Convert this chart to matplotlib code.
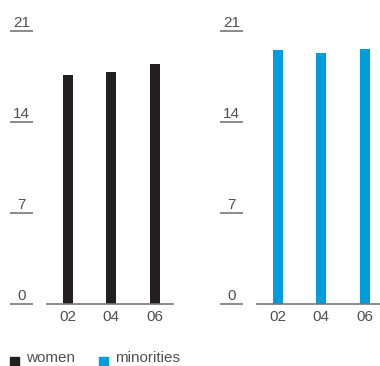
import matplotlib
matplotlib.use("Agg")
import matplotlib.pyplot as plt
from matplotlib.patches import Rectangle

plt.rcParams['font.family'] = ['Liberation Sans', 'DejaVu Sans']

years = ["02", "04", "06"]
women = [17.6, 17.85, 18.5]
minorities = [19.55, 19.3, 19.6]
y_ticks = [0, 7, 14, 21]
series_names = ["women", "minorities"]
colors = ["#231f20", "#009ddc"]

W, H = 380, 366
fig = plt.figure(figsize=(W / 100, H / 100), dpi=100)

text_color = "#505050"
line_color = "#777777"
xlim = (-1.322, 2.425)
base_start = -0.471
fs = 11


def panel(left_px, values, color):
    ax = fig.add_axes([left_px / W, 62 / H, 163 / W, 273 / H])
    ax.set_xlim(*xlim)
    ax.set_ylim(0, 21)
    xs = list(range(len(years)))
    ax.bar(xs, values, width=0.23, color=color, zorder=2)
    for s in ["top", "left", "right"]:
        ax.spines[s].set_visible(False)
    ax.spines["bottom"].set_bounds(base_start, xlim[1])
    ax.spines["bottom"].set_color(line_color)
    ax.spines["bottom"].set_linewidth(1.2)
    ax.set_xticks(xs)
    ax.set_xticklabels(years, fontsize=fs, color=text_color)
    ax.tick_params(axis="x", length=0, pad=4.5)
    ax.set_yticks([])
    for v in y_ticks:
        ax.plot([xlim[0], xlim[0] + 0.52], [v, v], color=line_color,
                lw=1.2, clip_on=False, solid_capstyle="butt")
        ax.annotate(str(v), xy=(xlim[0] + 0.26, v), xytext=(0, 3),
                    textcoords="offset points", ha="center", va="baseline",
                    fontsize=fs, color=text_color, annotation_clip=False)
    ax.patch.set_visible(False)
    return ax


panel(10, women, colors[0])
panel(220, minorities, colors[1])

# legend along the bottom edge
for x0, name, c in [(10, series_names[0], colors[0]), (99, series_names[1], colors[1])]:
    fig.patches.append(Rectangle((x0 / W, -3 / H), 9 / W, 12 / H,
                                 transform=fig.transFigure, color=c))
    fig.text((x0 + 16) / W, 3.5 / H, name, fontsize=fs, color=text_color,
             ha="left", va="baseline")

fig.savefig("out.png", dpi=100)
